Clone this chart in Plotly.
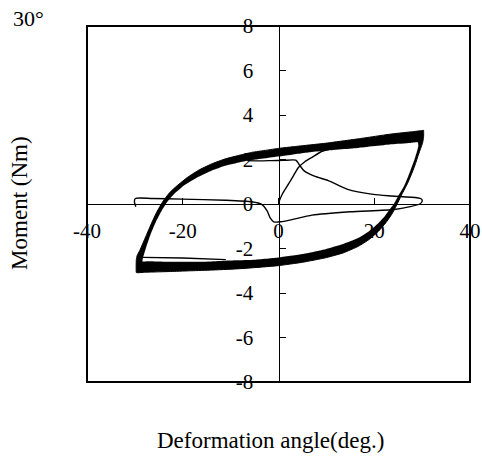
import plotly.graph_objects as go

# Hysteresis test at 30 deg amplitude: moment vs deformation angle
x_ticks = [-40, -20, 0, 20, 40]
x_tick_text = ["-40", "-20", "0", "20", "40"]
y_ticks = [-8, -6, -4, -2, 0, 2, 4, 6, 8]
y_tick_text = ["-8", "-6", "-4", "-2", "0", "2", "4", "6", "8"]

# Outer envelope of the repeated cycles (deg, Nm)
band_outer_angle = [-29.7, -29.7, -29.5, -29.0, -28.4, -27.6, -26.6, -25.4, -24.2, -22.8,
                    -21.2, -19.0, -16.7, -14.0, -11.1, -8.0, -5.6, -2.5, 0.0, 5.0,
                    9.8, 16.7, 23.7, 28.0, 30.0, 30.3, 30.3, 30.1, 29.7, 29.2,
                    28.6, 27.8, 26.9, 25.8, 24.8, 23.7, 22.4, 20.9, 18.9, 16.7,
                    13.5, 9.8, 5.0, 0.0, -5.0, -9.0, -14.0, -18.1, -22.0, -25.0,
                    -28.0, -29.4, -29.7]
band_outer_moment = [-3.08, -2.5, -2.3, -2.1, -1.8, -1.4, -0.9, -0.35, 0.1, 0.5,
                     0.82, 1.2, 1.52, 1.8, 2.03, 2.2, 2.32, 2.42, 2.5, 2.62,
                     2.73, 2.93, 3.15, 3.25, 3.3, 3.31, 3.0, 2.75, 2.5, 2.2,
                     1.8, 1.35, 0.9, 0.45, 0.0, -0.45, -0.85, -1.22, -1.6, -1.9,
                     -2.2, -2.42, -2.62, -2.77, -2.86, -2.92, -2.97, -3.0, -3.03, -3.05,
                     -3.07, -3.09, -3.08]

# Inner envelope of the repeated cycles (deg, Nm)
band_inner_angle = [-28.4, -28.3, -28.0, -27.5, -26.6, -25.5, -24.4, -23.2, -21.8, -19.6,
                    -16.7, -14.0, -11.1, -8.0, -5.6, -2.5, 0.0, 5.0, 9.8, 16.7,
                    23.7, 27.5, 29.1, 29.2, 28.9, 28.4, 27.8, 27.1, 26.2, 25.1,
                    24.1, 23.0, 22.0, 20.9, 18.9, 16.7, 13.5, 9.8, 5.0, 0.0,
                    -5.0, -9.0, -14.0, -18.1, -22.0, -25.0, -27.5, -28.4]
band_inner_moment = [-2.58, -2.42, -2.2, -1.85, -1.3, -0.75, -0.3, 0.1, 0.45, 0.85,
                     1.22, 1.5, 1.72, 1.88, 1.98, 2.06, 2.13, 2.28, 2.4, 2.52,
                     2.68, 2.74, 2.77, 2.6, 2.35, 2.0, 1.65, 1.25, 0.8, 0.4,
                     0.0, -0.3, -0.6, -0.85, -1.22, -1.52, -1.8, -2.03, -2.25, -2.4,
                     -2.5, -2.53, -2.58, -2.6, -2.6, -2.58, -2.57, -2.58]

# First loading from the origin
initial_angle = [0.0, 0.8, 2.1, 3.2, 4.2, 5.5, 7.0, 9.1, 10.5]
initial_moment = [0.05, 0.45, 0.9, 1.3, 1.65, 1.9, 2.1, 2.37, 2.45]

# First reversal at the negative end
first_reversal_angle = [-28.3, -20.0, -11.0]
first_reversal_moment = [-2.4, -2.43, -2.5]

# Final unloading path
final_angle = [-6.5, -4.0, -1.5, 1.0, 3.6, 4.5, 5.3, 7.5, 10.4, 14.3, 19.8, 23.7,
               28.9, 29.9, 30.0, 29.5, 27.5, 24.2, 15.0, 7.0, 2.8, 0.5, -1.0, -1.8,
               -2.4, -3.5, -5.6, -11.1, -20.2, -26.4, -29.9, -30.1, -29.8]
final_moment = [1.95, 1.94, 1.95, 1.96, 1.97, 1.72, 1.5, 1.25, 1.05, 0.67, 0.43, 0.36,
                0.28, 0.22, 0.12, 0.0, -0.12, -0.25, -0.35, -0.5, -0.7, -0.8, -0.8, -0.6,
                -0.3, -0.02, 0.1, 0.17, 0.22, 0.25, 0.25, 0.1, -0.12]

FONT = "Liberation Serif"
thin = dict(color="black", width=1.4, shape="spline", smoothing=0.6)
band_line = dict(shape="spline", smoothing=0.3)

fig = go.Figure()
fig.add_trace(go.Scatter(x=band_outer_angle, y=band_outer_moment, mode="lines",
                         fill="toself", fillcolor="black",
                         line=dict(color="black", width=1, **band_line),
                         hoverinfo="skip"))
fig.add_trace(go.Scatter(x=band_inner_angle, y=band_inner_moment, mode="lines",
                         fill="toself", fillcolor="white",
                         line=dict(color="white", width=0.1, **band_line),
                         hoverinfo="skip"))
fig.add_trace(go.Scatter(x=initial_angle, y=initial_moment, mode="lines", line=thin))
fig.add_trace(go.Scatter(x=first_reversal_angle, y=first_reversal_moment, mode="lines", line=thin))
fig.add_trace(go.Scatter(x=final_angle, y=final_moment, mode="lines", line=thin))

axis_common = dict(showline=True, linecolor="black", linewidth=1.2,
                   ticks="inside", ticklen=6, tickwidth=1.2, tickcolor="black",
                   showgrid=False, zeroline=False, automargin=False,
                   anchor="free", position=0.5,
                   tickfont=dict(family=FONT, size=21, color="black"))

fig.update_layout(
    width=482, height=460,
    margin=dict(l=87, r=12, t=26, b=78),
    paper_bgcolor="white", plot_bgcolor="white",
    showlegend=False,
    font=dict(family=FONT, color="black"),
    xaxis=dict(range=[-40, 40], tickvals=x_ticks, ticktext=x_tick_text,
               side="bottom", ticklabelstandoff=8, **axis_common),
    yaxis=dict(range=[-8, 8], tickvals=y_ticks, ticktext=y_tick_text,
               side="left", ticklabelstandoff=21, **axis_common),
    shapes=[dict(type="rect", xref="paper", yref="paper", x0=0, y0=0, x1=1, y1=1,
                 line=dict(color="black", width=2))],
    annotations=[
        dict(text="Deformation angle(deg.)", xref="paper", yref="paper",
             x=0.478, y=-0.163, xanchor="center", yanchor="middle",
             showarrow=False, font=dict(family=FONT, size=23)),
        dict(text="Moment (Nm)", xref="paper", yref="paper",
             x=-0.175, y=0.503, xanchor="center", yanchor="middle", textangle=-90,
             showarrow=False, font=dict(family=FONT, size=23)),
        dict(text="30°", xref="paper", yref="paper",
             x=-0.154, y=1.02, xanchor="center", yanchor="middle",
             showarrow=False, font=dict(family=FONT, size=22)),
    ],
)

fig.write_html("out.html")
